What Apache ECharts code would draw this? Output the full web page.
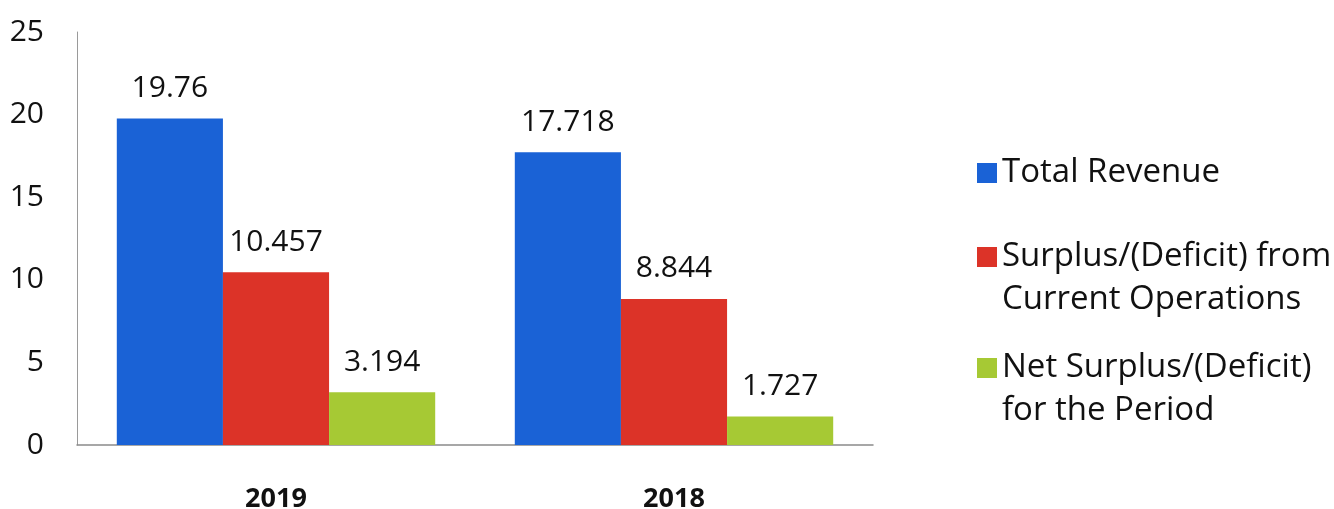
<!DOCTYPE html>
<html>
<head>
<meta charset="utf-8">
<script src="https://cdn.jsdelivr.net/npm/echarts@6/dist/echarts.min.js"></script>
<style>html,body{margin:0;padding:0;background:#fff}#c{width:1334px;height:509px}</style>
</head>
<body>
<div id="c"></div>
<script>
const categories = ['2019', '2018'];
const seriesNames = ['Total Revenue', 'Surplus/(Deficit) from Current Operations', 'Net Surplus/(Deficit) for the Period'];
const legendLines = [['Total Revenue'], ['Surplus/(Deficit) from', 'Current Operations'], ['Net Surplus/(Deficit)', 'for the Period']];
const totalRevenue = [19.76, 17.718];
const surplusCurrent = [10.457, 8.844];
const netSurplus = [3.194, 1.727];
const yTicks = [0, 5, 10, 15, 20, 25];

const colors = ['#1a62d6', '#dc3328', '#a6c934'];
const FONT = 'Open Sans';
const LH = 43;
const legendCenters = [173, 257, 368];

const chart = echarts.init(document.getElementById('c'));
const values = [totalRevenue, surplusCurrent, netSurplus];

chart.setOption({
  animation: false,
  textStyle: { fontFamily: FONT },
  grid: { left: 77, right: 461, top: 32, bottom: 64, containLabel: false, outerBoundsMode: 'none' },
  xAxis: {
    type: 'category',
    data: categories,
    axisLine: { lineStyle: { color: '#8a8a8a', width: 1.5 } },
    axisTick: { show: false },
    axisLabel: { fontFamily: FONT, fontWeight: 'bold', fontSize: 27, color: '#111', margin: 41 }
  },
  yAxis: {
    type: 'value',
    min: yTicks[0],
    max: yTicks[yTicks.length - 1],
    interval: 5,
    axisLine: { show: true, lineStyle: { color: '#9a9a9a', width: 1 } },
    axisTick: { show: false },
    splitLine: { show: false },
    axisLabel: { fontFamily: FONT, fontSize: 30, color: '#111', margin: 33 }
  },
  legend: seriesNames.map((n, i) => {
    const multi = legendLines[i].length > 1;
    const half = multi ? LH * 1.5 : LH / 2;
    return {
      data: [n],
      left: 972,
      top: legendCenters[i] - half - 5,
      orient: 'vertical',
      icon: 'rect',
      itemWidth: 20,
      itemHeight: 20,
      formatter: name => {
        const lines = legendLines[seriesNames.indexOf(name)];
        return (lines.length > 1 ? '\n' : '') + lines.join('\n');
      },
      textStyle: { fontFamily: FONT, fontSize: 33, color: '#111', lineHeight: LH }
    };
  }),
  series: seriesNames.map((n, i) => ({
    name: n,
    type: 'bar',
    data: values[i],
    barGap: '0%',
    barCategoryGap: '20%',
    itemStyle: { color: colors[i] },
    label: {
      show: true,
      position: 'top',
      distance: 15,
      fontFamily: FONT,
      fontSize: 30,
      color: '#111'
    }
  }))
});
</script>
</body>
</html>
